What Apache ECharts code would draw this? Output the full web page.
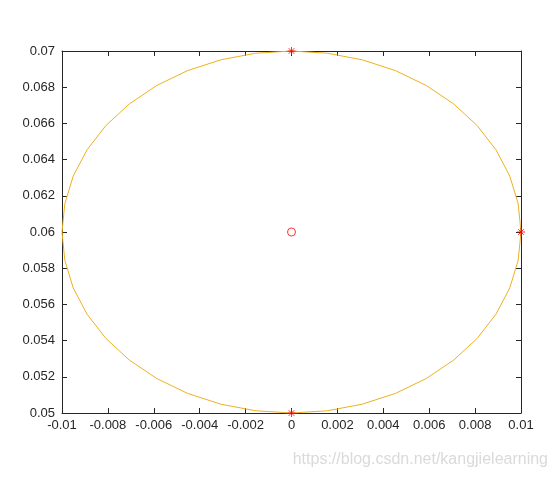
<!DOCTYPE html>
<html><head><meta charset="utf-8">
<script src="https://cdn.jsdelivr.net/npm/echarts@6/dist/echarts.min.js"></script>
<style>html,body{margin:0;padding:0;background:#fff}#c{width:557px;height:481px}</style>
</head><body><div id="c"></div>
<script>
// Ellipse outline vertices
const ellipseX = [0.01, 0.009877, 0.009511, 0.008910, 0.008090, 0.007071, 0.005878, 0.004540, 0.003090, 0.001564,
  0, -0.001564, -0.003090, -0.004540, -0.005878, -0.007071, -0.008090, -0.008910, -0.009511, -0.009877,
  -0.01, -0.009877, -0.009511, -0.008910, -0.008090, -0.007071, -0.005878, -0.004540, -0.003090, -0.001564,
  0, 0.001564, 0.003090, 0.004540, 0.005878, 0.007071, 0.008090, 0.008910, 0.009511, 0.009877, 0.01];
const ellipseY = [0.06, 0.061564, 0.063090, 0.064540, 0.065878, 0.067071, 0.068090, 0.068910, 0.069511, 0.069877,
  0.07, 0.069877, 0.069511, 0.068910, 0.068090, 0.067071, 0.065878, 0.064540, 0.063090, 0.061564,
  0.06, 0.058436, 0.056910, 0.055460, 0.054122, 0.052929, 0.051910, 0.051090, 0.050489, 0.050123,
  0.05, 0.050123, 0.050489, 0.051090, 0.051910, 0.052929, 0.054122, 0.055460, 0.056910, 0.058436, 0.06];
const starX = [0, 0, 0.01];
const starY = [0.07, 0.05, 0.06];
const centerX = [0];
const centerY = [0.06];
const xTicks = [-0.01, -0.008, -0.006, -0.004, -0.002, 0, 0.002, 0.004, 0.006, 0.008, 0.01];
const yTicks = [0.05, 0.052, 0.054, 0.056, 0.058, 0.06, 0.062, 0.064, 0.066, 0.068, 0.07];
const watermark = 'https://blog.csdn.net/kangjielearning';

const chart = echarts.init(document.getElementById('c'), null, {renderer: 'canvas'});
const fmt = v => String(parseFloat(v.toFixed(5)));
const axisCommon = {
  axisLine: {show: true, onZero: false, lineStyle: {color: '#262626', width: 1}},
  axisTick: {show: true, inside: true, length: 5, lineStyle: {color: '#262626', width: 1}},
  splitLine: {show: false},
};
const xMin = xTicks[0], xMax = xTicks[xTicks.length - 1], xInt = 0.002;
const yMin = yTicks[0], yMax = yTicks[yTicks.length - 1], yInt = 0.002;
const starPath = 'path://M0,-1L0,1M-1,0L1,0M-0.707,-0.707L0.707,0.707M-0.707,0.707L0.707,-0.707';

chart.setOption({
  animation: false,
  grid: {left: 62, right: 36, top: 51, bottom: 68, containLabel: false},
  xAxis: [
    Object.assign({type: 'value', min: xMin, max: xMax, interval: xInt, position: 'bottom',
      axisLabel: {color: '#262626', fontSize: 13, fontFamily: 'Liberation Sans, Arial', margin: 6, formatter: fmt}}, axisCommon),
    Object.assign({type: 'value', min: xMin, max: xMax, interval: xInt, position: 'top',
      axisLabel: {show: false}}, axisCommon)
  ],
  yAxis: [
    Object.assign({type: 'value', min: yMin, max: yMax, interval: yInt, position: 'left',
      axisLabel: {color: '#262626', fontSize: 13, fontFamily: 'Liberation Sans, Arial', margin: 7, formatter: fmt}}, axisCommon),
    Object.assign({type: 'value', min: yMin, max: yMax, interval: yInt, position: 'right',
      axisLabel: {show: false}}, axisCommon)
  ],
  series: [
    {type: 'line', data: ellipseX.map((x, i) => [x, ellipseY[i]]), showSymbol: false,
      lineStyle: {color: '#EDB120', width: 1}, itemStyle: {color: '#EDB120'}, clip: false},
    {type: 'scatter', data: starX.map((x, i) => [x, starY[i]]), symbol: starPath, symbolSize: 8,
      itemStyle: {color: 'none', borderColor: '#FF0000', borderWidth: 1}, z: 5},
    {type: 'scatter', data: centerX.map((x, i) => [x, centerY[i]]), symbol: 'circle', symbolSize: 8,
      itemStyle: {color: 'rgba(0,0,0,0)', borderColor: '#FF0000', borderWidth: 1}, z: 5}
  ],
  graphic: [{type: 'text', right: 9, top: 452,
    style: {text: watermark, fill: '#dadada', fontSize: 16, fontFamily: 'Liberation Sans, Arial'}}]
});
</script></body></html>
